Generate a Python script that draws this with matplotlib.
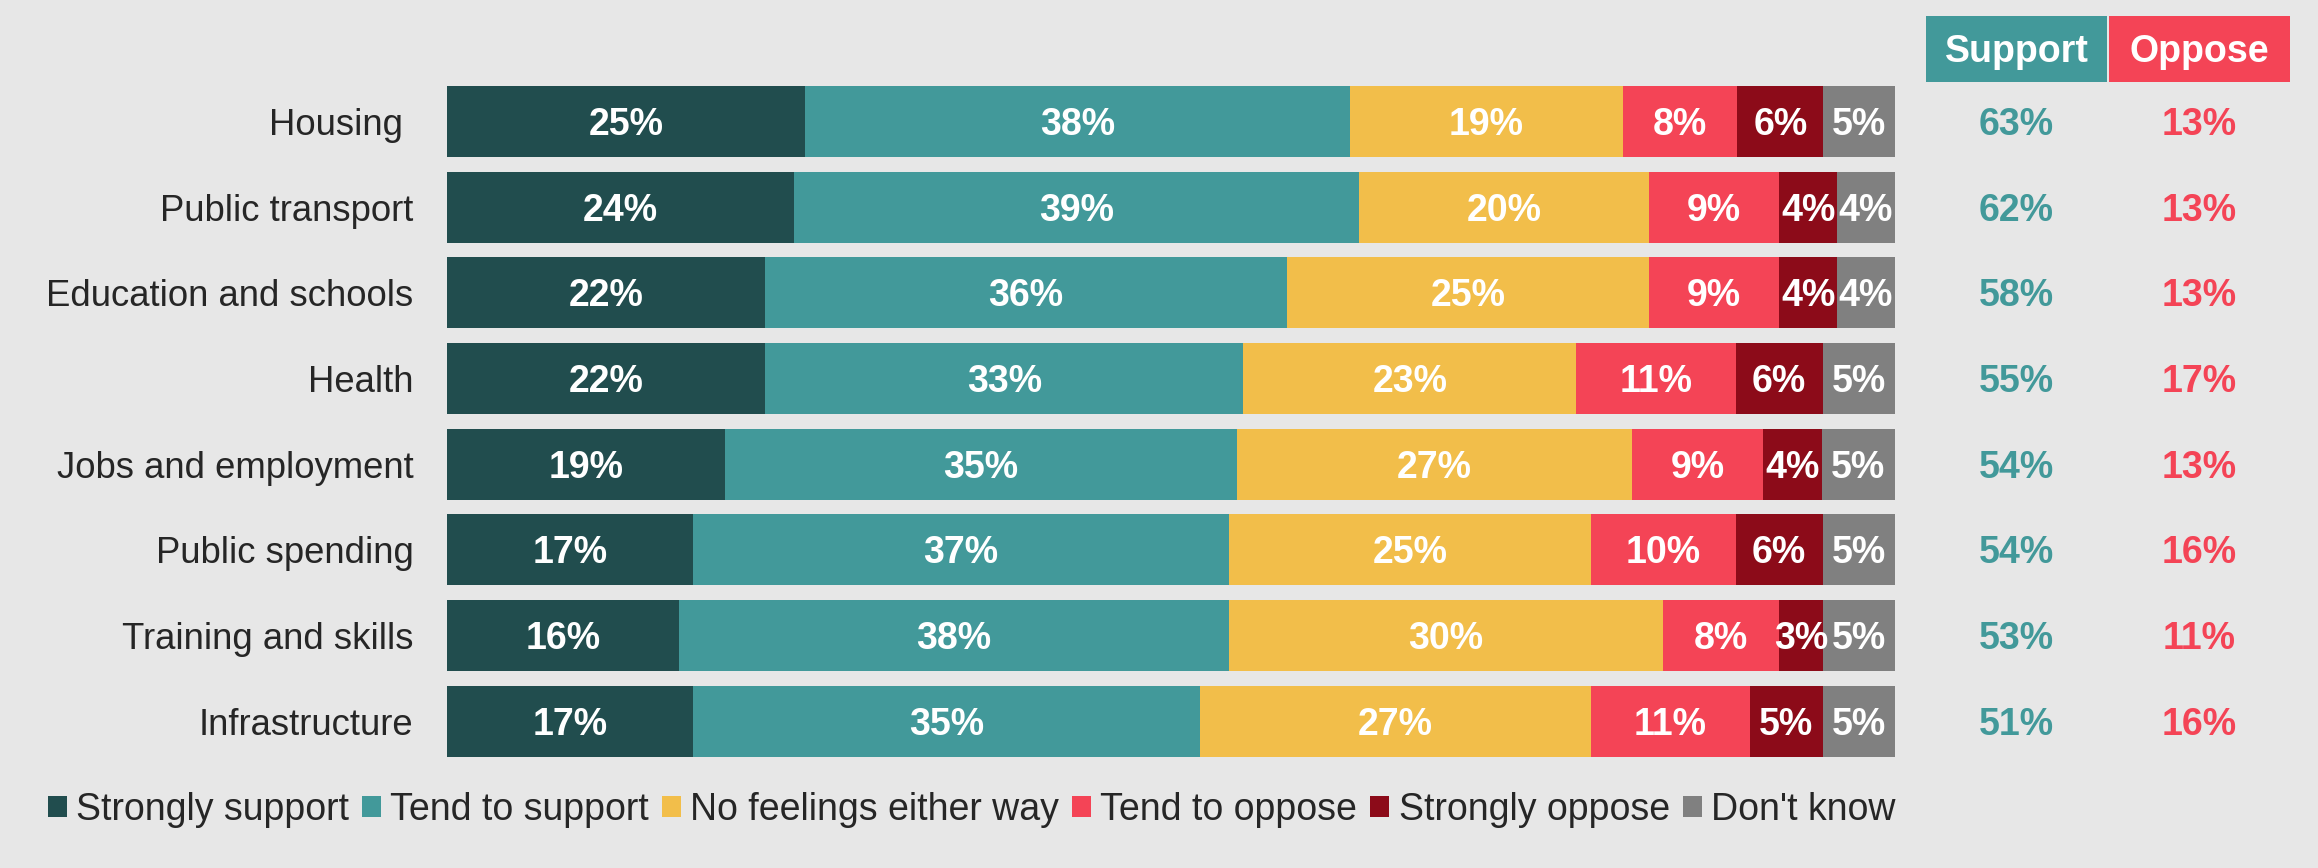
import numpy as np
import matplotlib
matplotlib.use("Agg")
import matplotlib.pyplot as plt
from matplotlib.patches import Patch, Rectangle

# survey data, top row first
topics = ["Housing ", "Public transport", "Education and schools", "Health",
          "Jobs and employment", "Public spending", "Training and skills", "Infrastructure"]
answers = ["Strongly support", "Tend to support", "No feelings either way",
           "Tend to oppose", "Strongly oppose", "Don't know"]
strongly_support = [25, 24, 22, 22, 19, 17, 16, 17]
tend_support = [38, 39, 36, 33, 35, 37, 38, 35]
no_feelings = [19, 20, 25, 23, 27, 25, 30, 27]
tend_oppose = [8, 9, 9, 11, 9, 10, 8, 11]
strongly_oppose = [6, 4, 4, 6, 4, 6, 3, 5]
dont_know = [5, 4, 4, 5, 5, 5, 5, 5]
support_net = [63, 62, 58, 55, 54, 54, 53, 51]
oppose_net = [13, 13, 13, 17, 13, 16, 11, 16]

colors = ["#214d4e", "#42999a", "#f2be4a", "#f44456", "#8c0b19", "#808080"]
bg = "#e7e7e7"
txt = "#262626"
fs = 27
plt.rcParams["font.family"] = "Liberation Sans"

fig = plt.figure(figsize=(23.18, 8.68), dpi=100, facecolor=bg)
ax = fig.add_axes([0.1928, 0.1198, 0.6247, 0.7896])
ax.set_facecolor(bg)

data = np.array([strongly_support, tend_support, no_feelings,
                 tend_oppose, strongly_oppose, dont_know], dtype=float)
share = data / data.sum(axis=0) * 100
y = np.arange(len(topics))
# shift baseline down so digits sit centred in the bar
dy = 0.716 * fs * 100 / 72 / 2 / 85.7
left = np.zeros(len(topics))
for k in range(len(answers)):
    ax.barh(y, share[k], left=left, height=0.83, color=colors[k], label=answers[k])
    for i in range(len(topics)):
        ax.text(left[i] + share[k][i] / 2, y[i] + dy, "%d%%" % data[k][i], ha="center",
                va="baseline", color="white", fontsize=fs, fontweight="bold")
    left += share[k]

ax.set_xlim(0, 100)
ax.set_ylim(len(topics) - 0.5, -0.5)
ax.set_yticks(y)
ax.set_yticklabels(topics, fontsize=26.3, color=txt)
ax.tick_params(axis="y", length=0, pad=24)
ax.set_xticks([])
for s in ax.spines.values():
    s.set_visible(False)

# net support / oppose columns
tr = ax.get_yaxis_transform()
for i in range(len(topics)):
    ax.text(1.0836, y[i] + dy, "%d%%" % support_net[i], transform=tr, ha="center",
            va="baseline", color=colors[1], fontsize=fs, fontweight="bold")
    ax.text(1.2099, y[i] + dy, "%d%%" % oppose_net[i], transform=tr, ha="center",
            va="baseline", color=colors[3], fontsize=fs, fontweight="bold")

fig.patches.append(Rectangle((0.8309, 0.9055), 0.0781, 0.0761, transform=fig.transFigure,
                             facecolor=colors[1], edgecolor="none"))
fig.patches.append(Rectangle((0.9098, 0.9055), 0.0781, 0.0761, transform=fig.transFigure,
                             facecolor=colors[3], edgecolor="none"))
hy = 0.9435 - 0.716 * fs * 100 / 72 / 2 / 868
fig.text(0.8700, hy, "Support", ha="center", va="baseline", color="white",
         fontsize=fs, fontweight="bold")
fig.text(0.9488, hy, "Oppose", ha="center", va="baseline", color="white",
         fontsize=fs, fontweight="bold")

handles = [Patch(facecolor=c, edgecolor="none") for c in colors]
fig.legend(handles, answers, loc="center left", bbox_to_anchor=(0.0207, 0.067),
           ncol=6, frameon=False, borderpad=0, borderaxespad=0,
           handlelength=0.5, handleheight=0.5, handletextpad=0.25, columnspacing=0.35,
           fontsize=fs, labelcolor=txt)

fig.savefig("out.png", dpi=100, facecolor=bg)
